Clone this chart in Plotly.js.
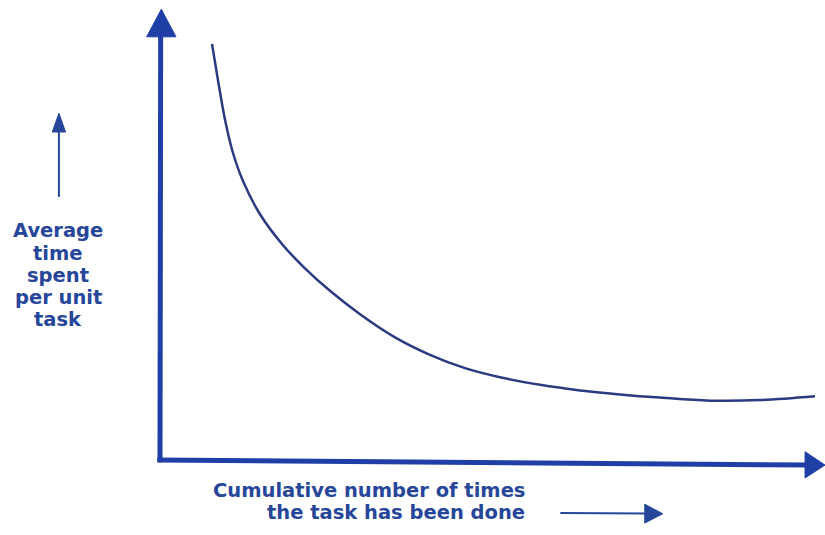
<!DOCTYPE html>
<html>
<head>
<meta charset="utf-8">
<script src="https://cdn.plot.ly/plotly-3.0.1.min.js"></script>
<style>html,body{margin:0;padding:0;background:#fff}#chart{width:825px;height:535px}</style>
</head>
<body>
<div id="chart"></div>
<script>
// Learning curve: cumulative repetitions vs average time per unit task
var repetitions = [7.82, 8.72, 9.77, 10.98, 12.48, 15.04, 18.50, 21.80, 25.56, 30.08, 35.34, 40.60, 45.86, 51.13, 57.14, 63.16, 69.17, 75.19, 82.71, 90.23, 98.50];
var avgTime     = [90.43, 82.57, 74.04, 66.74, 60.65, 53.43, 46.70, 41.67, 36.78, 31.70, 26.67, 22.87, 19.98, 18.00, 16.35, 15.13, 14.26, 13.57, 12.91, 13.02, 13.85];
var yLabelLines = ["Average", "time", "spent", "per unit", "task"];
var xLabelLines = ["Cumulative number of times", "the task has been done"];

var axisBlue = "#1f3fa6";
var textBlue = "#26469a";
var curveBlue = "#2c3a82";

var trace = {
  x: repetitions, y: avgTime, mode: "lines", type: "scatter",
  line: {color: curveBlue, width: 2.5, shape: "spline", smoothing: 1},
  hoverinfo: "skip"
};

var shapes = [
  // y axis
  {type: "line", x0: 0, y0: -0.5, x1: 0.1, y1: 93, line: {color: axisBlue, width: 5}},
  {type: "path", path: "M -2.0 92 L 0.2 98 L 2.4 92 Z", fillcolor: axisBlue, line: {color: axisBlue, width: 1}},
  // x axis
  {type: "line", x0: -0.4, y0: 0, x1: 98, y1: -1.1, line: {color: axisBlue, width: 5}},
  {type: "path", path: "M 97.0 1.8 L 100 -1.1 L 97.0 -3.9 Z", fillcolor: axisBlue, line: {color: axisBlue, width: 1}},
  // small arrow above y label
  {type: "line", x0: -15.2, y0: 57.2, x1: -15.2, y1: 72, line: {color: textBlue, width: 2}},
  {type: "path", path: "M -16.2 71.3 L -15.2 75.4 L -14.2 71.3 Z", fillcolor: textBlue, line: {color: textBlue, width: 1}},
  // small arrow next to x label
  {type: "line", x0: 60.2, y0: -11.5, x1: 73.4, y1: -11.6, line: {color: textBlue, width: 2}},
  {type: "path", path: "M 72.9 -9.6 L 75.6 -11.7 L 72.9 -13.7 Z", fillcolor: textBlue, line: {color: textBlue, width: 1}}
];

var annotations = [];
var yCenters = [49.8, 45.0, 40.2, 35.4, 30.6];
yLabelLines.forEach(function (t, i) {
  annotations.push({x: -15.3, y: yCenters[i], xref: "x", yref: "y", text: t, showarrow: false,
    xanchor: "center", yanchor: "middle",
    font: {family: "DejaVu Sans", size: 19.5, color: textBlue, weight: "bold"}});
});
var xCenters = [-6.6, -11.5];
xLabelLines.forEach(function (t, i) {
  annotations.push({x: 55.2, y: xCenters[i], xref: "x", yref: "y", text: t, showarrow: false,
    xanchor: "right", yanchor: "middle",
    font: {family: "DejaVu Sans", size: 19.5, color: textBlue, weight: "bold"}});
});

var layout = {
  width: 825, height: 535,
  margin: {l: 0, r: 0, t: 0, b: 0, pad: 0},
  paper_bgcolor: "#ffffff", plot_bgcolor: "#ffffff",
  showlegend: false,
  xaxis: {range: [-24.06, 100], visible: false, fixedrange: true},
  yaxis: {range: [-16.3, 100], visible: false, fixedrange: true},
  shapes: shapes,
  annotations: annotations
};

Plotly.newPlot("chart", [trace], layout, {displayModeBar: false, staticPlot: true});
</script>
</body>
</html>
